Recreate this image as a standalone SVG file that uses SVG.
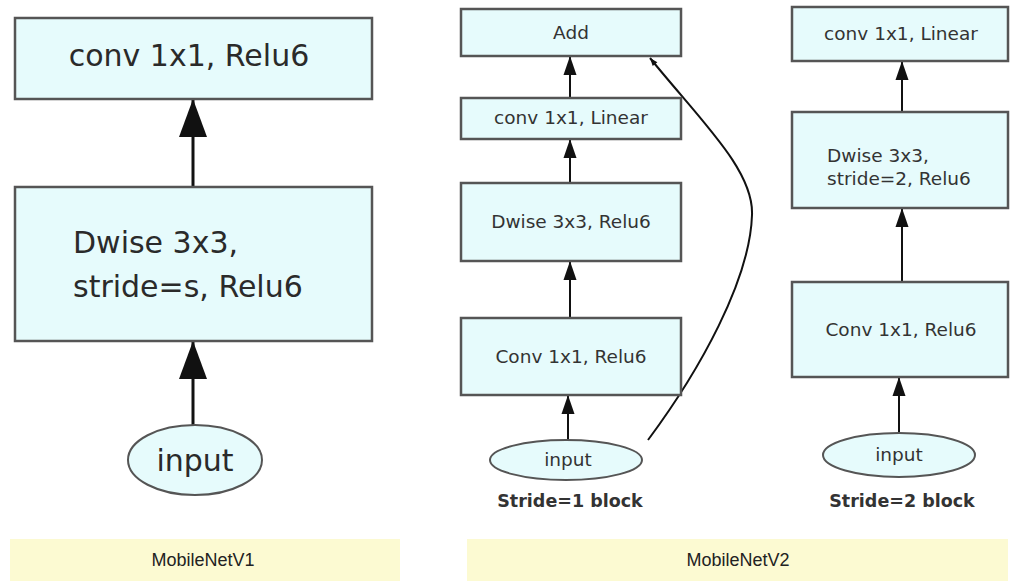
<svg xmlns="http://www.w3.org/2000/svg" width="1010" height="583" viewBox="0 0 1010 583">
<defs>
<style>
.box{fill:#e6fbfc;stroke:#555;stroke-width:2.5}
.el{fill:#e6fbfc;stroke:#555;stroke-width:2}
.t1{font-family:"DejaVu Sans",sans-serif;font-size:30px;fill:#2a2a2a}
.t2{font-family:"DejaVu Sans",sans-serif;font-size:18.5px;fill:#333}
.tb{font-family:"DejaVu Sans",sans-serif;font-size:17.5px;font-weight:bold;fill:#333}
.lbl{font-family:"Liberation Sans",sans-serif;font-size:18px;fill:#222}
.ban{fill:#fcfad2}
.c1{stroke:#111;stroke-width:3;fill:none}
.c2{stroke:#111;stroke-width:2;fill:none}
</style>
<marker id="big" markerUnits="userSpaceOnUse" viewBox="-40 -16 40 32" markerWidth="40" markerHeight="32" refX="0" refY="0" orient="auto">
<path d="M0,0 L-38,-14 L-38,14 Z" fill="#111"/>
</marker>
<marker id="sm" markerUnits="userSpaceOnUse" viewBox="-20 -8 20 16" markerWidth="20" markerHeight="16" refX="0" refY="0" orient="auto">
<path d="M0,0 L-19,-6.5 L-19,6.5 Z" fill="#111"/>
</marker>
<marker id="tiny" markerUnits="userSpaceOnUse" viewBox="-10 -5 10 10" markerWidth="10" markerHeight="10" refX="0" refY="0" orient="auto">
<path d="M0,0 L-8,-3 L-8,3 Z" fill="#111"/>
</marker>
</defs>
<rect width="1010" height="583" fill="#fff"/>

<g id="banners">
<rect class="ban" x="10" y="539" width="390" height="42"/>
<text class="lbl" x="203" y="566" text-anchor="middle">MobileNetV1</text>
<rect class="ban" x="467" y="539" width="541" height="42"/>
<text class="lbl" x="738" y="566" text-anchor="middle">MobileNetV2</text>
</g>

<g id="connectors">
<line class="c1" x1="193" y1="186" x2="193" y2="99" marker-end="url(#big)"/>
<line class="c1" x1="193" y1="425" x2="193" y2="341" marker-end="url(#big)"/>
<line class="c2" x1="570" y1="98" x2="570" y2="56" marker-end="url(#sm)"/>
<line class="c2" x1="570" y1="183" x2="570" y2="139" marker-end="url(#sm)"/>
<line class="c2" x1="570" y1="318" x2="570" y2="261" marker-end="url(#sm)"/>
<line class="c2" x1="568" y1="440" x2="568" y2="395" marker-end="url(#sm)"/>
<path class="c2" d="M648,440 C700,370 750,280 752,215 C754,170 700,120 650,58" marker-end="url(#tiny)"/>
<line class="c2" x1="902" y1="112" x2="902" y2="61" marker-end="url(#sm)"/>
<line class="c2" x1="902" y1="282" x2="902" y2="208" marker-end="url(#sm)"/>
<line class="c2" x1="899" y1="432" x2="899" y2="377" marker-end="url(#sm)"/>
</g>

<g id="v1-conv">
<rect class="box" x="15" y="18" width="357" height="81"/>
<text class="t1" x="189" y="66" text-anchor="middle">conv 1x1, Relu6</text>
</g>
<g id="v1-dwise">
<rect class="box" x="15" y="187" width="357" height="154"/>
<text class="t1" x="73" y="253">Dwise 3x3,</text>
<text class="t1" x="73" y="297">stride=s, Relu6</text>
</g>
<g id="v1-input">
<ellipse class="el" cx="195" cy="460" rx="67" ry="35"/>
<text class="t1" x="195" y="471" text-anchor="middle">input</text>
</g>

<g id="s1-add">
<rect class="box" x="461" y="9" width="220" height="47"/>
<text class="t2" x="571" y="39" text-anchor="middle">Add</text>
</g>
<g id="s1-linear">
<rect class="box" x="461" y="98" width="220" height="41"/>
<text class="t2" x="571" y="124" text-anchor="middle">conv 1x1, Linear</text>
</g>
<g id="s1-dwise">
<rect class="box" x="461" y="183" width="220" height="78"/>
<text class="t2" x="571" y="228" text-anchor="middle">Dwise 3x3, Relu6</text>
</g>
<g id="s1-conv">
<rect class="box" x="461" y="318" width="220" height="77"/>
<text class="t2" x="571" y="363" text-anchor="middle">Conv 1x1, Relu6</text>
</g>
<g id="s1-input">
<ellipse class="el" cx="566" cy="460" rx="76" ry="20"/>
<text class="t2" x="568" y="466" text-anchor="middle">input</text>
<text class="tb" x="570" y="507" text-anchor="middle">Stride=1 block</text>
</g>

<g id="s2-linear">
<rect class="box" x="792" y="7" width="216" height="54"/>
<text class="t2" x="901" y="40" text-anchor="middle">conv 1x1, Linear</text>
</g>
<g id="s2-dwise">
<rect class="box" x="792" y="112" width="216" height="96"/>
<text class="t2" x="827" y="162">Dwise 3x3,</text>
<text class="t2" x="827" y="185">stride=2, Relu6</text>
</g>
<g id="s2-conv">
<rect class="box" x="792" y="282" width="216" height="95"/>
<text class="t2" x="901" y="336" text-anchor="middle">Conv 1x1, Relu6</text>
</g>
<g id="s2-input">
<ellipse class="el" cx="899" cy="455" rx="76" ry="22"/>
<text class="t2" x="899" y="461" text-anchor="middle">input</text>
<text class="tb" x="902" y="507" text-anchor="middle">Stride=2 block</text>
</g>
</svg>
